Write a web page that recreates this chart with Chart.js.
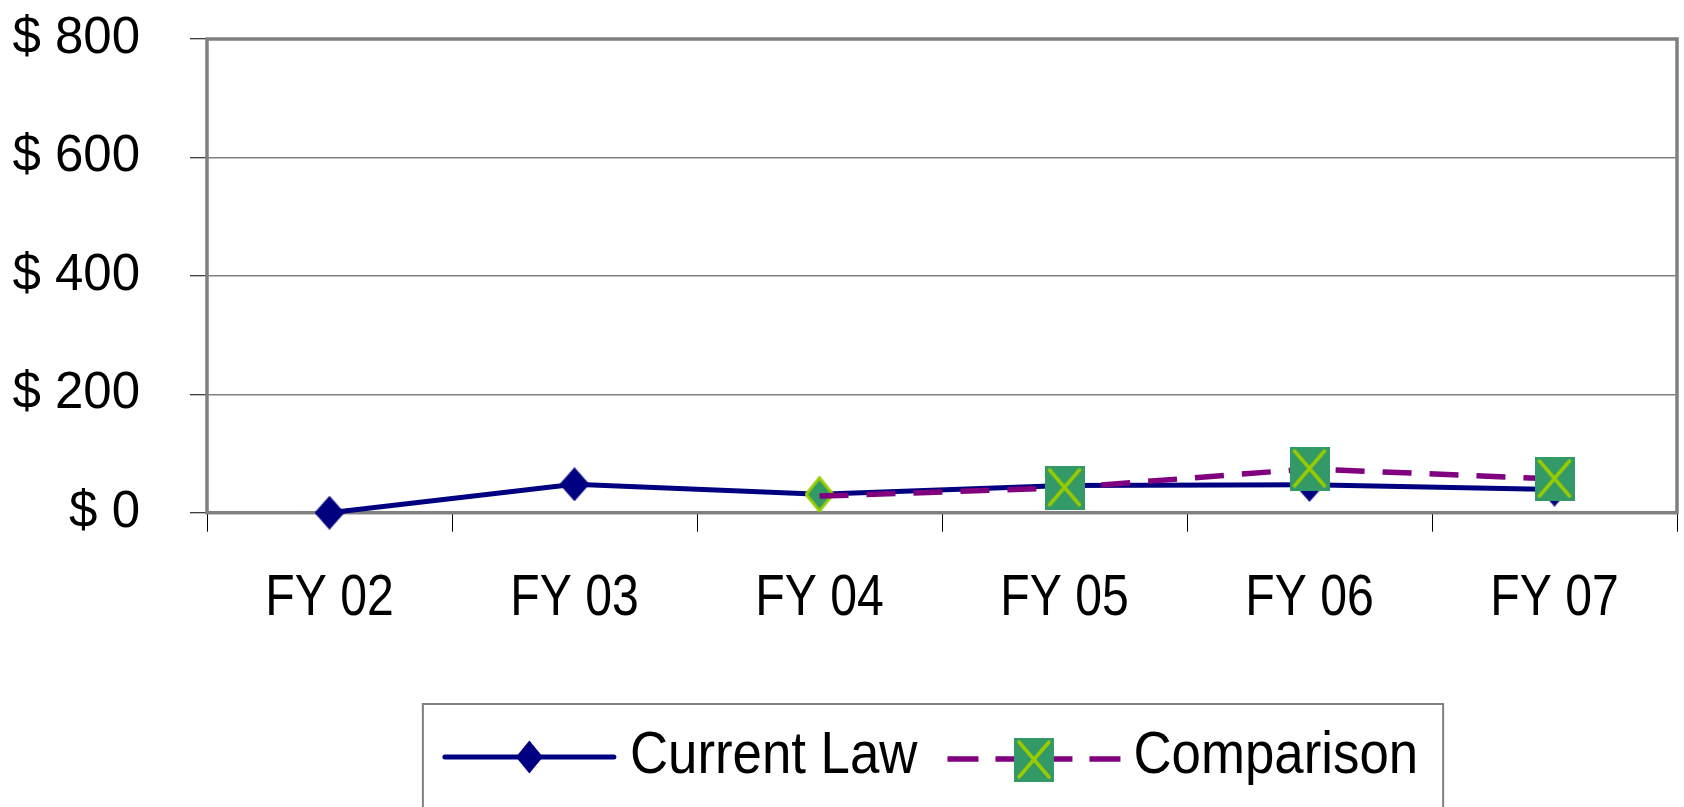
<!DOCTYPE html>
<html>
<head>
<meta charset="utf-8">
<script src="https://cdn.jsdelivr.net/npm/chart.js@4.4.1/dist/chart.umd.min.js"></script>
<style>
html, body { margin: 0; padding: 0; background: #ffffff; overflow: hidden; }
#wrap { width: 1684px; height: 807px; }
canvas { display: block; }
</style>
</head>
<body>
<div id="wrap"><canvas id="c" width="1684" height="807"></canvas></div>
<script>
// ---- data ----
const categories = ['FY 02', 'FY 03', 'FY 04', 'FY 05', 'FY 06', 'FY 07'];
const currentLaw = [0, 48, 31, 46, 47, 39];
const comparison = [null, null, 28, 42, 74, 57];
const yTickValues = [0, 200, 400, 600, 800];
const seriesNames = ['Current Law', 'Comparison'];

// ---- styles ----
const NAVY = '#000080';
const PURPLE = '#800080';
const SEA = '#339966';
const LIME = '#99CC00';
const GRAY = '#808080';
const SANS = "'Liberation Sans', Arial, sans-serif";
const X_FONT_SIZE = 57;
const LEGEND_FONT_SIZE = 60;
// horizontal condensing per font size (reference uses a narrow face)
const CONDENSE = { 57: 0.845, 60: 0.88 };

function mk(w, h) { const c = document.createElement('canvas'); c.width = w; c.height = h; return c; }
function diamond(ctx, cx, cy, w, h) {
  ctx.beginPath();
  ctx.moveTo(cx, cy - h / 2); ctx.lineTo(cx + w / 2, cy);
  ctx.lineTo(cx, cy + h / 2); ctx.lineTo(cx - w / 2, cy); ctx.closePath();
}
function squareX(ctx, cx, cy, w, h) {
  ctx.fillStyle = SEA;
  ctx.fillRect(cx - w / 2, cy - h / 2, w, h);
  ctx.strokeStyle = LIME; ctx.lineWidth = 3.5; ctx.lineCap = 'round';
  ctx.beginPath();
  ctx.moveTo(cx - w / 2 + 5, cy - h / 2 + 4); ctx.lineTo(cx + w / 2 - 5, cy + h / 2 - 5);
  ctx.moveTo(cx + w / 2 - 5, cy - h / 2 + 4); ctx.lineTo(cx - w / 2 + 5, cy + h / 2 - 5);
  ctx.stroke();
}

// point marker images
const navyDiamondImg = (() => { const c = mk(30, 34); const x = c.getContext('2d');
  diamond(x, 15, 17, 30, 34); x.fillStyle = NAVY; x.fill(); return c; })();
const greenDiamondImg = (() => { const c = mk(30, 36); const x = c.getContext('2d');
  diamond(x, 15, 18, 27, 33); x.fillStyle = SEA; x.fill();
  x.strokeStyle = LIME; x.lineWidth = 3; x.stroke(); return c; })();
const squareXImg = (() => { const c = mk(40, 44); const x = c.getContext('2d');
  squareX(x, 20, 22, 40, 44); return c; })();

// condensed text rendering for the narrow-face labels
const condensePlugin = {
  id: 'condense',
  beforeInit(chart) {
    const ctx = chart.ctx;
    const orig = ctx.fillText.bind(ctx);
    ctx.fillText = function (text, x, y, maxWidth) {
      const m = /(\d+(?:\.\d+)?)px/.exec(ctx.font);
      const f = m ? CONDENSE[parseFloat(m[1])] : undefined;
      if (f) {
        const w = ctx.measureText(text).width * f;
        return orig(text, x, y, maxWidth !== undefined ? Math.min(maxWidth, w) : w);
      }
      return maxWidth !== undefined ? orig(text, x, y, maxWidth) : orig(text, x, y);
    };
  }
};

// frame around plot area + custom legend (line + marker samples)
const framePlugin = {
  id: 'frame',
  beforeDatasetsDraw(chart) {
    const a = chart.chartArea, ctx = chart.ctx;
    ctx.save();
    ctx.strokeStyle = GRAY; ctx.lineWidth = 3.5;
    ctx.strokeRect(a.left, a.top, a.right - a.left, a.bottom - a.top);
    ctx.restore();
  },
  afterDraw(chart) {
    const ctx = chart.ctx, a = chart.chartArea;
    ctx.save();
    ctx.font = LEGEND_FONT_SIZE + 'px ' + SANS;
    const f = CONDENSE[LEGEND_FONT_SIZE];
    const t1 = ctx.measureText(seriesNames[0]).width * f;
    const t2 = ctx.measureText(seriesNames[1]).width * f;
    const S1 = 175, S2 = 173, GAP_T = 13, GAP_I = 30;
    const total = S1 + GAP_T + t1 + GAP_I + S2 + GAP_T + t2;
    const x0 = (a.left + a.right) / 2 - total / 2 - 12;
    const baseY = 772.7;
    // border
    ctx.strokeStyle = GRAY; ctx.lineWidth = 2;
    ctx.beginPath();
    ctx.moveTo(x0 - 19, chart.height + 5); ctx.lineTo(x0 - 19, 704);
    ctx.lineTo(x0 + total + 25, 704); ctx.lineTo(x0 + total + 25, chart.height + 5);
    ctx.stroke();
    // item 1: solid navy line with diamond
    const ly1 = 757;
    ctx.strokeStyle = NAVY; ctx.lineWidth = 5; ctx.lineCap = 'round';
    ctx.beginPath(); ctx.moveTo(x0 + 3, ly1); ctx.lineTo(x0 + S1 - 3, ly1); ctx.stroke();
    diamond(ctx, x0 + S1 / 2, ly1, 27, 33); ctx.fillStyle = NAVY; ctx.fill();
    ctx.fillStyle = '#000000'; ctx.textAlign = 'left'; ctx.textBaseline = 'alphabetic';
    const tx1 = x0 + S1 + GAP_T;
    ctx.fillText(seriesNames[0], tx1, baseY);
    // item 2: dashed purple line with square-X
    const x2 = tx1 + t1 + GAP_I, ly2 = 759;
    ctx.strokeStyle = PURPLE; ctx.lineWidth = 5.5; ctx.lineCap = 'butt'; ctx.setLineDash([31, 17]);
    ctx.beginPath(); ctx.moveTo(x2, ly2); ctx.lineTo(x2 + S2 / 2, ly2); ctx.stroke();
    ctx.beginPath(); ctx.moveTo(x2 + S2, ly2); ctx.lineTo(x2 + S2 / 2, ly2); ctx.stroke();
    ctx.setLineDash([]);
    squareX(ctx, x2 + S2 / 2, 760, 40, 44);
    ctx.fillStyle = '#000000';
    ctx.fillText(seriesNames[1], x2 + S2 + GAP_T, baseY);
    ctx.restore();
  }
};

new Chart(document.getElementById('c'), {
  type: 'line',
  data: {
    labels: categories,
    datasets: [
      {
        label: seriesNames[0],
        data: currentLaw,
        borderColor: NAVY,
        backgroundColor: NAVY,
        borderWidth: 5,
        tension: 0,
        pointStyle: [navyDiamondImg, navyDiamondImg, greenDiamondImg, navyDiamondImg, navyDiamondImg, navyDiamondImg],
        pointRadius: 10,
        clip: false,
        order: 1
      },
      {
        label: seriesNames[1],
        data: comparison,
        borderColor: PURPLE,
        backgroundColor: PURPLE,
        borderWidth: 5.5,
        borderDash: [29, 18],
        tension: 0,
        pointStyle: squareXImg,
        pointRadius: [0, 0, 0, 10, 10, 10],
        clip: false,
        order: 0
      }
    ]
  },
  options: {
    responsive: false,
    animation: false,
    devicePixelRatio: 1,
    layout: { autoPadding: false, padding: { left: 0, right: 7, top: 39, bottom: 0 } },
    events: [],
    scales: {
      x: {
        offset: true,
        afterFit(s) { s.height = 807 - 512.7; s.paddingLeft = 0; s.paddingRight = 0; },
        grid: { offset: true, drawOnChartArea: false, drawTicks: true, tickLength: 19, tickColor: '#000000', tickWidth: 1 },
        border: { display: false },
        ticks: { color: '#000000', font: { family: SANS, size: X_FONT_SIZE }, padding: 33, maxRotation: 0, autoSkip: false }
      },
      y: {
        min: 0, max: 800,
        afterFit(s) { s.width = 207; s.paddingTop = 31; s.paddingBottom = 31; },
        afterBuildTicks(s) { s.ticks = yTickValues.map(v => ({ value: v })); },
        grid: { color: GRAY, lineWidth: 1.5, drawTicks: true, tickLength: 17, tickColor: '#000000', tickWidth: 1 },
        border: { display: false },
        ticks: { color: '#000000', font: { family: SANS, size: 51 }, padding: 50, callback: v => '$ ' + v }
      }
    },
    plugins: {
      tooltip: { enabled: false },
      legend: { display: false }
    }
  },
  plugins: [condensePlugin, framePlugin]
});
</script>
</body>
</html>
